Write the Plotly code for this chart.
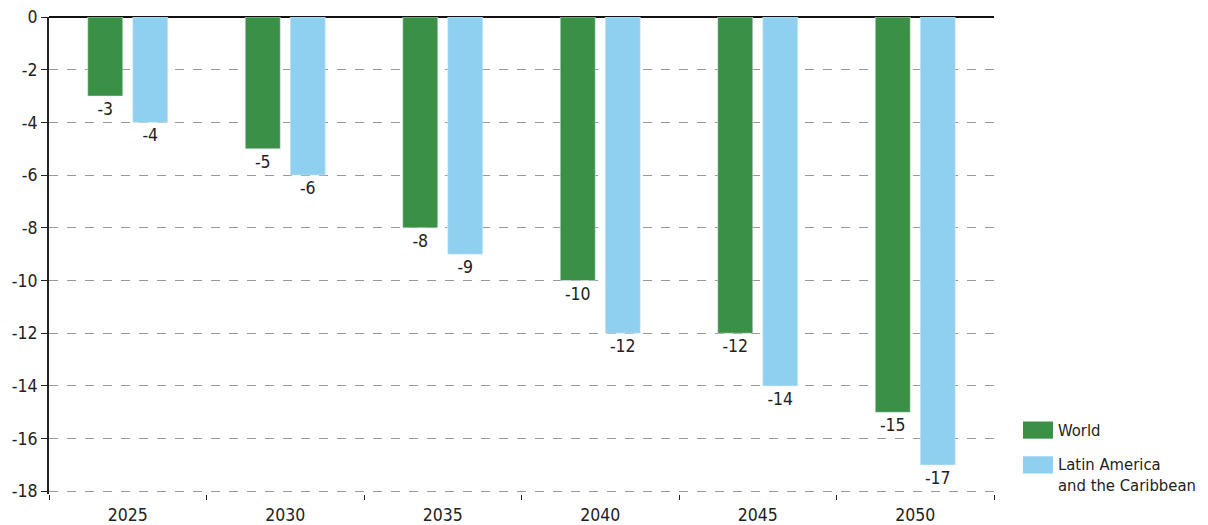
import plotly.graph_objects as go

years = ["2025", "2030", "2035", "2040", "2045", "2050"]
world = [-3, -5, -8, -10, -12, -15]
lac = [-4, -6, -9, -12, -14, -17]
series_names = ["World", "Latin America<br>and the Caribbean"]
y_ticks = [0, -2, -4, -6, -8, -10, -12, -14, -16, -18]

FONT = "DejaVu Sans Condensed, Liberation Sans Narrow, Roboto, sans-serif"
GREEN = "#3A9145"
BLUE = "#8FCFEF"
TXT = "#222222"

fig = go.Figure()
for vals, name, col in [(world, series_names[0], GREEN), (lac, series_names[1], BLUE)]:
    fig.add_trace(go.Bar(x=years, y=vals, name=name, marker_color=col,
                         text=[str(v) for v in vals], textposition="outside",
                         textfont=dict(size=17.5, color=TXT, family=FONT),
                         cliponaxis=False, showlegend=False, hoverinfo="skip"))

# custom legend (swatches + labels)
legend_y = [0.134, 0.061]
for i, (name, col) in enumerate([(series_names[0], GREEN), (series_names[1], BLUE)]):
    fig.add_shape(type="rect", xref="paper", yref="paper",
                  x0=1.0307, x1=1.0624, y0=legend_y[i] - 0.018, y1=legend_y[i] + 0.018,
                  fillcolor=col, line=dict(width=0))
    fig.add_annotation(xref="paper", yref="paper", x=1.066, y=legend_y[i] + 0.024,
                       text=name, showarrow=False, xanchor="left", yanchor="top",
                       align="left", font=dict(size=16.5, family=FONT, color=TXT))

fig.update_layout(
    width=1208, height=525,
    margin=dict(l=49, r=214, t=17, b=31, autoexpand=False),
    plot_bgcolor="white", paper_bgcolor="white",
    bargap=0.4286, bargroupgap=0.222,
    font=dict(family=FONT, size=17, color=TXT),
    showlegend=False,
)
fig.update_xaxes(type="category", showgrid=False, showline=False, zeroline=False,
                 ticks="outside", tickson="boundaries", ticklen=5, tickcolor=TXT,
                 automargin=False, ticklabelstandoff=8,
                 tickfont=dict(size=17.5, family=FONT, color=TXT))
fig.update_yaxes(range=[-18.1, 0], tickvals=y_ticks, ticktext=[str(v) for v in y_ticks],
                 showgrid=True, gridcolor="#999999", griddash="dash", gridwidth=1,
                 showline=True, linecolor=TXT, linewidth=2,
                 ticks="outside", ticklen=6, tickcolor=TXT,
                 zeroline=True, zerolinecolor="#111111", zerolinewidth=2,
                 automargin=False,
                 tickfont=dict(size=17.5, family=FONT, color=TXT))
fig.write_html("out.html", config={"displayModeBar": False},
               post_script="document.body.style.margin='0';document.body.style.padding='0';")
